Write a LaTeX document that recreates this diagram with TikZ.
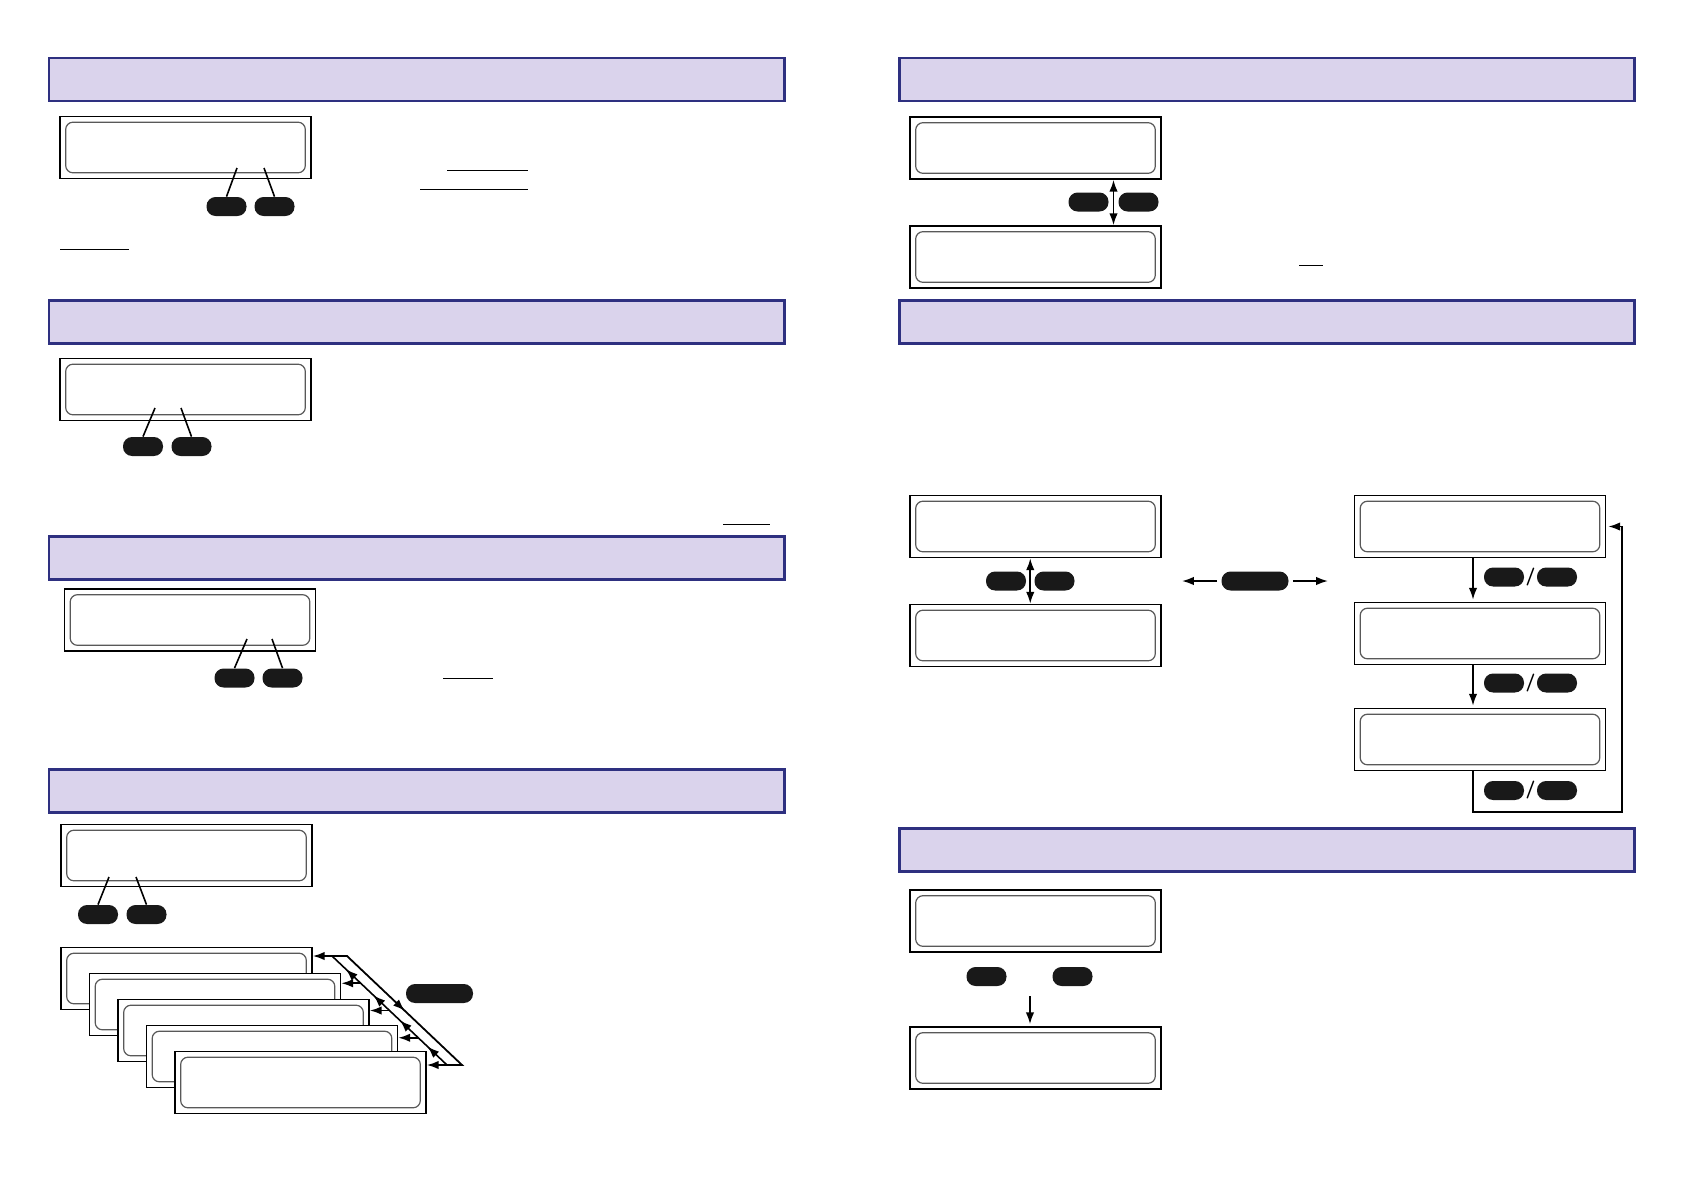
\documentclass[tikz,border=0pt]{standalone}
\usepackage{tikz}
\usetikzlibrary{arrows.meta,calc,decorations.markings}
\definecolor{hdrfill}{RGB}{218,211,236}
\definecolor{hdrline}{RGB}{46,48,128}
\newcommand{\pxu}{0.17637mm}

\begin{document}
\begin{tikzpicture}[
  x=\pxu, y=-\pxu,
  hdr/.style={draw=hdrline, fill=hdrfill, line width=1.5pt, minimum width=735*\pxu, minimum height=43*\pxu, inner sep=0pt},
  lcd/.style={draw, fill=white, line width=0.8pt, minimum width=251*\pxu, minimum height=62*\pxu, inner sep=0pt,
    path picture={\draw[black!65, line width=0.6pt, rounded corners=1.3mm]
      ([shift={(1mm,-1mm)}]path picture bounding box.north west) rectangle
      ([shift={(-1mm,1mm)}]path picture bounding box.south east);}},
  btn/.style={fill=black!90, rounded corners=1.6mm, minimum width=40*\pxu, minimum height=19*\pxu, inner sep=0pt},
  widebtn/.style={btn, minimum width=67*\pxu},
  slash/.style={font=\sffamily\bfseries\small, inner sep=0pt},
  arr/.style={line width=0.9pt, -{Latex[length=2.1mm, width=1.5mm]}},
  darr/.style={line width=0.9pt, {Latex[length=2.1mm, width=1.5mm]}-{Latex[length=2.1mm, width=1.5mm]}},
  lnk/.style={line width=0.8pt},
  uline/.style={line width=0.5pt},
  upmarks/.style={postaction={decorate}, decoration={markings,
    mark=at position 0.17 with {\arrow{Latex[length=2.1mm, width=1.5mm]}},
    mark=at position 0.41 with {\arrow{Latex[length=2.1mm, width=1.5mm]}},
    mark=at position 0.64 with {\arrow{Latex[length=2.1mm, width=1.5mm]}},
    mark=at position 0.88 with {\arrow{Latex[length=2.1mm, width=1.5mm]}}}},
  downmark/.style={postaction={decorate}, decoration={markings,
    mark=at position 0.5 with {\arrow{Latex[length=2.1mm, width=1.5mm]}}}}
]
  \useasboundingbox (0,0) rectangle (1684,1190);

  % left column
  \node[hdr] (h1) at (416.5,79.5) {};
  \node[lcd] (l1) at (185.5,147.5) {};
  \node[btn] (l1a) at (226.5,206.5) {};
  \node[btn] (l1b) at (274.5,206.5) {};
  \coordinate (l1p) at (237,168);
  \coordinate (l1q) at (264,168);
  \draw[lnk] (l1a.north) -- (l1p);
  \draw[lnk] (l1b.north) -- (l1q);
  \draw[uline] (447,170) -- (528,170);
  \draw[uline] (420,189) -- (528,189);
  \draw[uline] (60,249) -- (129,249);

  \node[hdr] (h2) at (416.5,322) {};
  \node[lcd] (l2) at (185.5,389.5) {};
  \node[btn] (l2a) at (143,446.5) {};
  \node[btn] (l2b) at (191.5,446.5) {};
  \coordinate (l2p) at (155,408);
  \coordinate (l2q) at (181,408);
  \draw[lnk] (l2a.north) -- (l2p);
  \draw[lnk] (l2b.north) -- (l2q);
  \draw[uline] (723,524) -- (770,524);

  \node[hdr] (h3) at (416.5,558) {};
  \node[lcd] (l3) at (190,620) {};
  \node[btn] (l3a) at (234.5,678) {};
  \node[btn] (l3b) at (282.5,678) {};
  \coordinate (l3p) at (247,639);
  \coordinate (l3q) at (272,639);
  \draw[lnk] (l3a.north) -- (l3p);
  \draw[lnk] (l3b.north) -- (l3q);
  \draw[uline] (443,678) -- (493,678);

  \node[hdr] (h4) at (416.5,791) {};
  \node[lcd] (l4) at (186.5,855.5) {};
  \node[btn] (l4a) at (98,914.5) {};
  \node[btn] (l4b) at (146.5,914.5) {};
  \coordinate (l4p) at (109,877);
  \coordinate (l4q) at (136,877);
  \draw[lnk] (l4a.north) -- (l4p);
  \draw[lnk] (l4b.north) -- (l4q);

  \node[lcd] (s1) at (186.5,978.5) {};
  \node[lcd] (s2) at (215,1004.5) {};
  \node[lcd] (s3) at (243.5,1030.5) {};
  \node[lcd] (s4) at (272,1056.5) {};
  \node[lcd] (s5) at (300.5,1082.5) {};
  \node[widebtn] (sb) at (439.5,993.5) {};
  \coordinate (otop) at (347,956);
  \coordinate (obot) at (462,1065);
  \coordinate (itop) at (332,956);
  \coordinate (ibot) at (447,1065);
  \coordinate (k2) at ($(itop)!0.25!(ibot)$);
  \coordinate (k3) at ($(itop)!0.5!(ibot)$);
  \coordinate (k4) at ($(itop)!0.75!(ibot)$);
  \draw[darr, downmark] (otop -| s1.east) -- (otop) -- (obot) -- (obot -| s5.east);
  \draw[lnk, upmarks] (ibot) -- (itop);
  \draw[arr] (k2) -- (k2 -| s2.east);
  \draw[arr] (k3) -- (k3 -| s3.east);
  \draw[arr] (k4) -- (k4 -| s4.east);

  % right column
  \node[hdr] (rh1) at (1266.5,79.5) {};
  \node[lcd] (r1) at (1035.5,148) {};
  \node[lcd] (r2) at (1035.5,257) {};
  \node[btn] (r1a) at (1088.5,202) {};
  \node[btn] (r1b) at (1138.5,202) {};
  \coordinate (r1m) at ($(r1a.east)!0.5!(r1b.west)$);
  \draw[darr] (r1m |- r1.south) -- (r1m |- r2.north);
  \draw[uline] (1299,265) -- (1323,265);

  \node[hdr] (rh2) at (1266.5,322) {};
  \node[lcd] (ra) at (1035.5,526.5) {};
  \node[lcd] (rb) at (1035.5,635.5) {};
  \node[btn] (raa) at (1006,581) {};
  \node[btn] (rab) at (1054.5,581) {};
  \coordinate (ram) at ($(raa.east)!0.5!(rab.west)$);
  \draw[darr] (ram |- ra.south) -- (ram |- rb.north);
  \node[widebtn] (wb) at (1255,581) {};
  \coordinate (wl) at (1182,581);
  \coordinate (wr) at (1328,581);
  \draw[arr, shorten <=0.7mm] (wb.west) -- (wl);
  \draw[arr, shorten <=0.7mm] (wb.east) -- (wr);

  \node[lcd] (rc) at (1480,526.5) {};
  \node[lcd] (rd) at (1480,633.5) {};
  \node[lcd] (re) at (1480,739.5) {};
  \node[btn] (rc1) at (1504,577) {};
  \node[btn] (rc2) at (1557,577) {};
  \node[slash] (rcs) at ($(rc1.east)!0.5!(rc2.west)$) {/};
  \node[btn] (rd1) at (1504,683) {};
  \node[btn] (rd2) at (1557,683) {};
  \node[slash] (rds) at ($(rd1.east)!0.5!(rd2.west)$) {/};
  \node[btn] (re1) at (1504,790.5) {};
  \node[btn] (re2) at (1557,790.5) {};
  \node[slash] (res) at ($(re1.east)!0.5!(re2.west)$) {/};
  \coordinate (rx) at (1473,0);
  \coordinate (lp) at (1622,812);
  \draw[arr, shorten >=1pt] (rx |- rc.south) -- (rx |- rd.north);
  \draw[arr, shorten >=1pt] (rx |- rd.south) -- (rx |- re.north);
  \draw[arr, shorten >=1pt] (rx |- re.south) |- (lp) |- (rc.east);

  \node[hdr] (rh3) at (1266.5,849.5) {};
  \node[lcd] (rf) at (1035.5,921) {};
  \node[lcd] (rg) at (1035.5,1058) {};
  \node[btn] (rfa) at (986.5,976.5) {};
  \node[btn] (rfb) at (1072.5,976.5) {};
  \coordinate (rft) at (1030,996);
  \draw[arr, shorten >=1pt] (rft) -- (rft |- rg.north);
\end{tikzpicture}
\end{document}
